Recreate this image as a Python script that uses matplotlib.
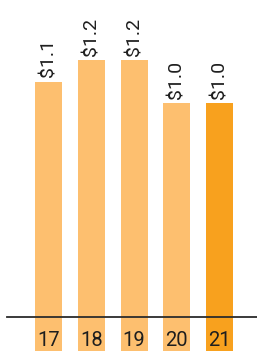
import matplotlib
matplotlib.use("Agg")
import matplotlib.pyplot as plt

categories = ["17", "18", "19", "20", "21"]
values = [1.1, 1.2, 1.2, 1.0, 1.0]
value_labels = ["$1.1", "$1.2", "$1.2", "$1.0", "$1.0"]
colors = ["#FDBF6F", "#FDBF6F", "#FDBF6F", "#FDBF6F", "#F8A11E"]

plt.rcParams['font.family'] = ['Roboto', 'DejaVu Sans']

W, H = 257, 351
fig = plt.figure(figsize=(W / 100, H / 100), dpi=100)
ax = fig.add_axes([0, 0, 1, 1])
ax.axis("off")

scale = 214.0  # px per unit
ymin = -34 / scale
ymax = 317 / scale
ax.set_ylim(ymin, ymax)
step = 42.75
x0 = 48.5
ax.set_xlim(-x0 / step, (W - x0) / step)

xs = list(range(len(categories)))
ax.bar(xs, [v - ymin for v in values], bottom=ymin, width=27 / step,
       color=colors, linewidth=0)

ax.axhline(0, xmin=7 / W, xmax=1, color="#2b2b2b", linewidth=1.3)

for x, v, lab in zip(xs, values, value_labels):
    ax.annotate(lab, (x, v), xytext=(0, 3), textcoords="offset points",
                rotation=90, ha="center", va="bottom", fontsize=14,
                color="#1e1e1e")

label_y = (317 - 345.5) / scale
for x, c in zip(xs, categories):
    ax.text(x, label_y, c, ha="center", va="baseline", fontsize=14.5,
            color="#1e1e1e")

fig.savefig("out.png", dpi=100)
